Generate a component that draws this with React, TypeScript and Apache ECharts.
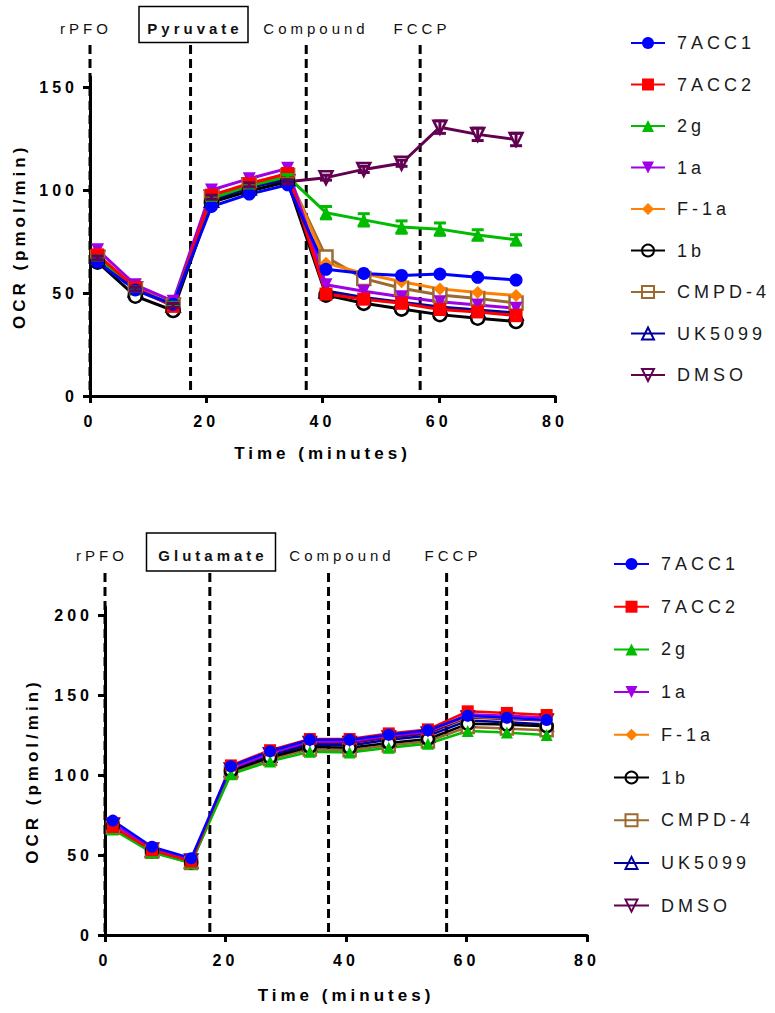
import React, { useEffect, useRef } from "react";
import * as echarts from "echarts";

// ---------- data ----------
const TIME = [1.3, 7.8, 14.3, 20.9, 27.4, 34.0, 40.6, 47.1, 53.6, 60.2, 66.7, 73.3];

const NAMES = ["7ACC1", "7ACC2", "2g", "1a", "F-1a", "1b", "CMPD-4", "UK5099", "DMSO"];
const COLORS = ["#0000FF", "#FF0000", "#00BB00", "#A000E6", "#FF8000", "#000000", "#9C6A2E", "#000099", "#620052"];
const SYMBOLS = ["circle", "rect", "triangle", "triangle", "diamond", "circle", "rect", "triangle", "triangle"];
const ROTATE = [0, 0, 0, 180, 0, 0, 0, 0, 180];
const HOLLOW = [false, false, false, false, false, true, true, true, true];

// Pyruvate panel (top)
const pyr7ACC1 = [65, 51.5, 44.5, 92, 98, 102.5, 61.5, 59.5, 58.5, 59.2, 57.6, 56.3];
const pyr7ACC2 = [68.5, 52.5, 43.5, 97.5, 103, 108, 49.5, 47, 45, 42, 40.8, 39];
const pyr2g = [67, 52, 44.5, 96, 102, 106.5, 89, 85.5, 82, 81, 78.2, 75.8];
const pyr1a = [71, 54, 46, 100, 105.5, 110.5, 54, 50.8, 48.2, 45.8, 44.2, 42.6];
const pyrF1a = [68, 53, 45, 97, 103.5, 107.5, 64.5, 59.5, 55.5, 52, 50.2, 48.8];
const pyr1b = [65, 48.5, 41.5, 94, 99.5, 104, 49, 45, 42.2, 39.5, 37.8, 36.2];
const pyrCMPD4 = [67.5, 52, 44, 96.5, 102.5, 107, 67.5, 57, 52.3, 49, 47.3, 45.2];
const pyrUK5099 = [66.5, 51.5, 44, 95, 101, 105.5, 51, 47.8, 45.5, 43.2, 41.7, 40.3];
const pyrDMSO = [67, 52, 44, 96.5, 102.5, 104, 106, 110, 113, 130.5, 127, 124.5];
const pyrErr2g = [1, 1, 1, 1, 1, 1, 3, 3, 3, 3, 2.5, 2.5];
const pyrErrDMSO = [1, 1, 1, 1, 1, 1, 1.2, 1.5, 1.5, 3, 3, 3];

// Glutamate panel (bottom)
const glu7ACC1 = [71.5, 55.2, 48, 105.5, 114.8, 122, 122, 125.2, 128, 137, 135.8, 134.4];
const glu7ACC2 = [67.5, 53, 46, 106, 115.5, 122.5, 122.5, 126, 128.5, 139.8, 138.8, 137.5];
const glu2g = [66, 51.5, 45, 100.5, 108.5, 114.5, 114, 117, 119.5, 127.5, 126.5, 125];
const glu1a = [69.5, 54, 47, 104, 113.5, 121, 121, 124.5, 127, 138, 137, 136];
const gluF1a = [69, 53.5, 46.5, 104.5, 114, 121.5, 121.5, 125, 127.5, 136.5, 135.5, 134.5];
const glu1b = [68, 52.5, 45.5, 102.5, 111, 117.5, 117, 120, 122.5, 132, 131.5, 130.5];
const gluCMPD4 = [67, 52, 45, 101.5, 110, 116, 115.5, 118.5, 121, 130, 129, 128];
const gluUK5099 = [68.5, 53, 46, 103, 112, 119, 118.5, 122, 124.5, 134, 133, 131.5];
const gluDMSO = [69, 53.5, 46.5, 103.5, 113, 120, 120, 123.5, 126, 136, 135, 134];

const PYR = [pyr7ACC1, pyr7ACC2, pyr2g, pyr1a, pyrF1a, pyr1b, pyrCMPD4, pyrUK5099, pyrDMSO];
const GLU = [glu7ACC1, glu7ACC2, glu2g, glu1a, gluF1a, glu1b, gluCMPD4, gluUK5099, gluDMSO];

const X_TICKS = [0, 20, 40, 60, 80];
const PYR_Y_MAX = 155;
const GLU_Y_MAX = 205;

// injection times
const PYR_INJECT = [0, 17.3, 37.2, 56.8];
const GLU_INJECT = [0, 17.4, 37.1, 56.7];
const PYR_LABELS = ["rPFO", "Pyruvate", "Compound", "FCCP"];
const GLU_LABELS = ["rPFO", "Glutamate", "Compound", "FCCP"];

const FONT = "'Liberation Sans', Arial, sans-serif";

function buildOption() {
  const grids = [
    { left: 90, top: 76.7, width: 465, height: 319.3 },
    { left: 105, top: 607, width: 482, height: 328 },
  ];
  const yMax = [PYR_Y_MAX, GLU_Y_MAX];
  const nameGapY = [62, 64];
  const nameGapX = [49, 52];

  const xAxis = grids.map((_, i) => ({
    type: "value",
    gridIndex: i,
    min: X_TICKS[0],
    max: X_TICKS[X_TICKS.length - 1],
    interval: 20,
    name: "Time (minutes)",
    nameLocation: "middle",
    nameGap: nameGapX[i],
    nameTextStyle: { fontFamily: FONT, fontWeight: "bold", fontSize: 17, color: "#000" },
    axisLine: { lineStyle: { color: "#000", width: 3 } },
    axisTick: { length: 7, lineStyle: { color: "#000", width: 3 } },
    axisLabel: { fontFamily: FONT, fontWeight: "bold", fontSize: 16, color: "#000", margin: 17 },
    splitLine: { show: false },
  }));
  const yAxis = grids.map((_, i) => ({
    type: "value",
    gridIndex: i,
    min: 0,
    max: yMax[i],
    interval: 50,
    name: "OCR (pmol/min)",
    nameLocation: "middle",
    nameGap: nameGapY[i],
    nameRotate: 90,
    nameTextStyle: { fontFamily: FONT, fontWeight: "bold", fontSize: 17, color: "#000" },
    axisLine: { show: true, lineStyle: { color: "#000", width: 3 } },
    axisTick: { show: true, length: 7, lineStyle: { color: "#000", width: 3 } },
    axisLabel: {
      fontFamily: FONT,
      fontWeight: "bold",
      fontSize: 16,
      color: "#000",
      margin: 12,
      showMaxLabel: false,
      formatter: (v: number) => (v % 50 === 0 ? String(v) : ""),
    },
    splitLine: { show: false },
  }));

  const series: any[] = [];
  const panels = [PYR, GLU];
  const injects = [PYR_INJECT, GLU_INJECT];
  const dashTop = [45, 573];

  panels.forEach((panel, g) => {
    // injection dashed lines
    series.push({
      type: "custom",
      xAxisIndex: g,
      yAxisIndex: g,
      silent: true,
      z: 1,
      clip: false,
      data: injects[g].map((t) => [t, 0]),
      encode: { x: 0, y: 1 },
      renderItem: (params: any, api: any) => {
        const p = api.coord([api.value(0), 0]);
        return {
          type: "line",
          shape: { x1: p[0], y1: dashTop[g], x2: p[0], y2: p[1] },
          style: { stroke: "#000", lineWidth: 3, lineDash: [9, 5] },
        };
      },
    });
    // data series, drawn in reverse so 7ACC1 is on top
    for (let k = NAMES.length - 1; k >= 0; k--) {
      const color = COLORS[k];
      series.push({
        type: "line",
        name: NAMES[k],
        xAxisIndex: g,
        yAxisIndex: g,
        z: 2,
        data: TIME.map((t, i) => [t, panel[k][i]]),
        symbol: SYMBOLS[k],
        symbolSize: g === 0 ? 13 : 12,
        symbolRotate: ROTATE[k],
        showAllSymbol: true,
        lineStyle: { color, width: g === 0 ? 3 : 2.5 },
        itemStyle: HOLLOW[k]
          ? { color: "#fff", borderColor: color, borderWidth: 2.5 }
          : { color, borderColor: color, borderWidth: 0 },
        emphasis: { disabled: true },
      });
    }
  });

  // error bars (top panel, visibly large ones)
  const errSets = [
    { k: 2, err: pyrErr2g },
    { k: 8, err: pyrErrDMSO },
  ];
  errSets.forEach(({ k, err }) => {
    series.push({
      type: "custom",
      xAxisIndex: 0,
      yAxisIndex: 0,
      silent: true,
      z: 3,
      data: TIME.map((t, i) => [t, PYR[k][i] - err[i], PYR[k][i] + err[i]]),
      encode: { x: 0, y: [1, 2] },
      renderItem: (params: any, api: any) => {
        const lo = api.coord([api.value(0), api.value(1)]);
        const hi = api.coord([api.value(0), api.value(2)]);
        const w = 6;
        const st = { stroke: COLORS[k], lineWidth: 3 };
        return {
          type: "group",
          children: [
            { type: "line", shape: { x1: lo[0], y1: lo[1], x2: hi[0], y2: hi[1] }, style: st },
            { type: "line", shape: { x1: lo[0] - w, y1: lo[1], x2: lo[0] + w, y2: lo[1] }, style: st },
            { type: "line", shape: { x1: hi[0] - w, y1: hi[1], x2: hi[0] + w, y2: hi[1] }, style: st },
          ],
        };
      },
    });
  });

  const legendData = NAMES.map((n, k) =>
    HOLLOW[k] ? { name: n, itemStyle: { color: "rgba(255,255,255,0)" } } : { name: n }
  );
  const legendBase = {
    orient: "vertical",
    data: legendData,
    itemHeight: 15,
    selectedMode: false,
    textStyle: { fontFamily: FONT, fontSize: 18, color: "#1a1a1a", lineHeight: 15, padding: [0, 0, 0, 7] },
  };

  const annot = (labels: string[], xs: number[], y: number, boxIdx: number, box: number[]) => {
    const els: any[] = [];
    labels.forEach((lab, i) => {
      els.push({
        type: "text",
        x: xs[i],
        y,
        style: {
          text: lab,
          fontFamily: FONT,
          fontSize: 15,
          fontWeight: i === boxIdx ? "bold" : "normal",
          fill: "#111",
          align: "center",
          verticalAlign: "middle",
        },
      });
    });
    els.push({
      type: "rect",
      shape: { x: box[0], y: box[1], width: box[2], height: box[3] },
      style: { fill: "none", stroke: "#000", lineWidth: 1.5 },
    });
    return els;
  };

  return {
    animation: false,
    backgroundColor: "#fff",
    grid: grids,
    xAxis,
    yAxis,
    legend: [
      { ...legendBase, left: 625, top: 29, itemWidth: 34, itemGap: 23.5 },
      { ...legendBase, left: 608, top: 550, itemWidth: 35, itemGap: 24.7 },
    ],
    graphic: [
      ...annot(PYR_LABELS, [86, 195, 316, 422], 28, 1, [139, 6.5, 109, 36]),
      ...annot(GLU_LABELS, [102, 213, 342, 453], 555, 1, [146.5, 533, 129, 38]),
    ],
    series,
  };
}

export default function App() {
  const ref = useRef<HTMLDivElement>(null);
  useEffect(() => {
    if (!ref.current) return;
    const chart = echarts.init(ref.current, undefined, { renderer: "svg" });
    chart.setOption(buildOption() as any);
    return () => chart.dispose();
  }, []);
  return (
    <div
      ref={ref}
      style={{
        position: "absolute",
        left: 0,
        top: 0,
        width: 775,
        height: 1013,
        letterSpacing: "4px",
        background: "#fff",
      }}
    />
  );
}
